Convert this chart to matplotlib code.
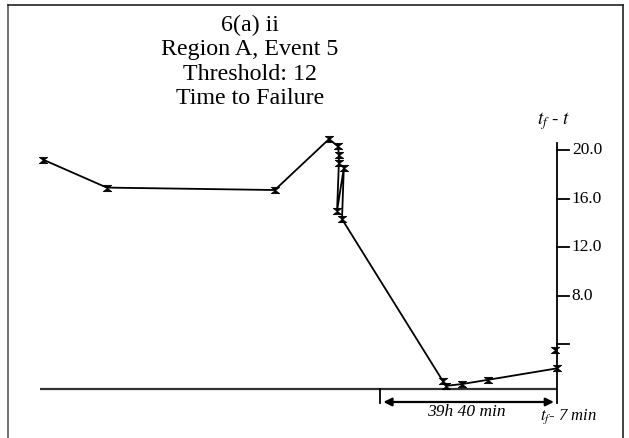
import matplotlib
matplotlib.use("Agg")
import matplotlib.pyplot as plt
from matplotlib.path import Path
from matplotlib.lines import Line2D

plt.rcParams["font.family"] = ["Liberation Serif", "DejaVu Serif"]
plt.rcParams["mathtext.fontset"] = "stix"

# hours relative to the last observation (t_f - 7 min) and t_f - t values
hours = [-114.8, -100.6, -63.1, -51.0, -49.0, -48.8, -48.8, -49.2, -47.7, -48.1,
         -25.6, -24.9, -21.3, -15.5, 0.0]
values = [19.2, 16.9, 16.7, 20.9, 20.3, 19.6, 18.9, 15.0, 18.5, 14.3,
          0.95, 0.55, 0.7, 1.05, 2.0]
extra_hours = [-0.5]
extra_values = [3.5]

tick_values = [4.0, 8.0, 12.0, 16.0, 20.0]
tick_labels = ["", "8.0", "12.0", "16.0", "20.0"]

title_lines = ["6(a) ii", "Region A, Event 5", "Threshold: 12", "Time to Failure"]
span_hours = 39 + 40 / 60
span_label = "39h 40 min"

# hourglass marker
hourglass = Path([(-1, 0.75), (1, 0.75), (-1, -0.75), (1, -0.75), (-1, 0.75)],
                 [Path.MOVETO, Path.LINETO, Path.LINETO, Path.LINETO, Path.CLOSEPOLY])

fig = plt.figure(figsize=(6.29, 4.38), dpi=100)
ax = fig.add_axes([0, 0, 1, 1])
ax.set_xlim(-124.44, 15.96)
ax.set_ylim(-3.75, 32.37)
ax.axis("off")

# frame
for xs, ys in [([8, 8], [0, 433]), ([8, 623], [433, 433]), ([623, 623], [0, 433])]:
    fig.add_artist(Line2D([x / 629 for x in xs], [y / 438 for y in ys],
                          color="#555555" if xs == [8, 8] else "#222222", lw=1.2))

# baseline
base = 0.29
ax.plot([-115.5, 0], [base, base], color="#333333", lw=1.6, solid_capstyle="butt")

# vertical axis with ticks
ax.plot([0, 0], [-0.9, 20.6], color="black", lw=1.3)
for tv, tl in zip(tick_values, tick_labels):
    ax.plot([0, 2.6], [tv, tv], color="black", lw=1.3)
    if tl:
        ax.text(3.2, tv, tl, fontsize=12.5, va="center", ha="left")
ax.text(-4.6, 21.5, r"$t_f$ - $t$", fontsize=13.5, ha="left", va="bottom")

# data
ax.plot(hours, values, color="black", lw=1.3, marker=hourglass, markersize=6,
        markerfacecolor="black", markeredgecolor="black", markeredgewidth=0.6)
ax.plot(extra_hours, extra_values, ls="none", marker=hourglass, markersize=6,
        markerfacecolor="black", markeredgecolor="black", markeredgewidth=0.6)

# span marker
ax.plot([-span_hours, -span_hours], [base, -0.87], color="black", lw=1.3)
ax.annotate("", xy=(-0.8, -0.78), xytext=(-span_hours + 0.8, -0.78),
            arrowprops=dict(arrowstyle="<|-|>", color="black", lw=1.6,
                            mutation_scale=12, shrinkA=0, shrinkB=0))
ax.text(-20.3, -1.6, span_label, fontsize=12.5, style="italic", ha="center", va="center")
ax.text(-3.8, -2.0, r"$t_f$- 7 min", fontsize=12, style="italic", ha="left", va="center")

# title
for i, line in enumerate(title_lines):
    fig.text(250 / 629, 1 - (25 + 24.5 * i) / 438, line, fontsize=17.3,
             ha="center", va="center")

fig.savefig("out.png", dpi=100)
